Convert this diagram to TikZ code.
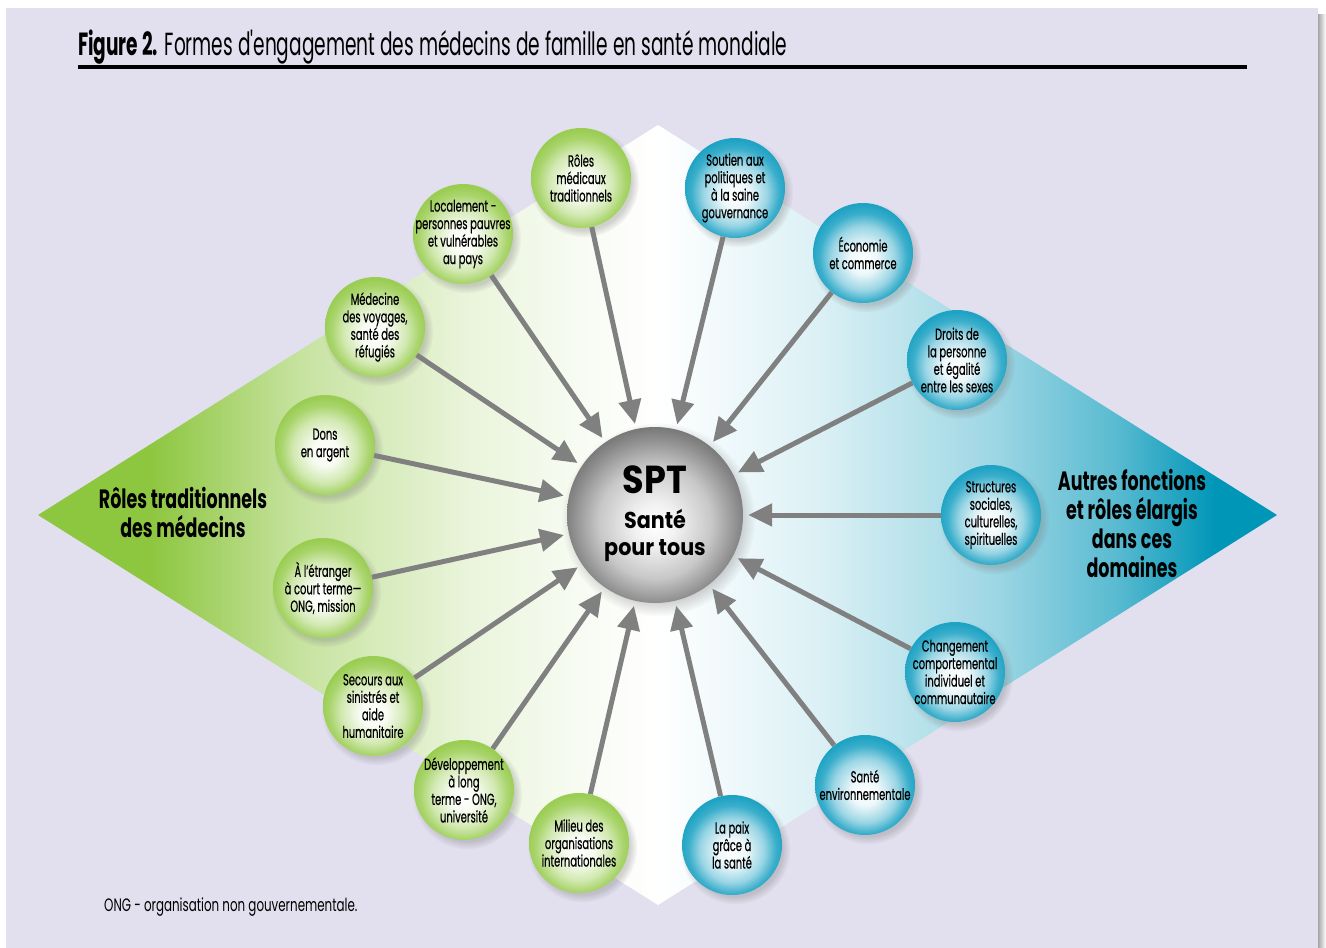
\documentclass[tikz,border=0pt]{standalone}
\usepackage{fontspec}
\setmainfont{Poppins}[FakeStretch=0.66]
\newfontfamily\sptfont{Poppins}[FakeStretch=0.9]
\newfontfamily\titrefont{Poppins}[FakeStretch=0.58]
\newfontfamily\bullefont{Poppins}[FakeStretch=0.62, FakeBold=0.5]
\usetikzlibrary{arrows.meta,shadows}

\definecolor{fond}{HTML}{E2E0EF}
\definecolor{vert}{HTML}{8DC63F}
\definecolor{bleu}{HTML}{0096B8}
\definecolor{vertbulle}{HTML}{9ACD52}
\definecolor{bleubulle}{HTML}{1FA3C4}
\definecolor{grisbulle}{HTML}{747474}
\definecolor{gris}{HTML}{808080}

% degrades du losange (les 25bp..75bp couvrent le triangle)
\pgfdeclarehorizontalshading{fondvert}{100bp}{color(0bp)=(vert); color(25bp)=(vert); color(34bp)=(vert); color(46bp)=(vert!50!white); color(60bp)=(vert!18!white); color(70bp)=(vert!5!white); color(75bp)=(white); color(100bp)=(white)}
\pgfdeclarehorizontalshading{fondbleu}{100bp}{color(0bp)=(white); color(25bp)=(white); color(38bp)=(bleu!14!white); color(52bp)=(bleu!38!white); color(62bp)=(bleu!65!white); color(70bp)=(bleu); color(100bp)=(bleu)}
% bulles
\pgfdeclareradialshading{bullevert}{\pgfpoint{0bp}{-4bp}}{color(0bp)=(white); color(7bp)=(vertbulle!8!white); color(16bp)=(vertbulle!45!white); color(22bp)=(vertbulle!85!white); color(26bp)=(vertbulle); color(50bp)=(vertbulle)}
\pgfdeclareradialshading{bullebleu}{\pgfpoint{0bp}{-4bp}}{color(0bp)=(white); color(7bp)=(bleubulle!8!white); color(16bp)=(bleubulle!45!white); color(22bp)=(bleubulle!88!white); color(26bp)=(bleubulle); color(50bp)=(bleubulle)}
\pgfdeclareradialshading{bullegris}{\pgfpoint{0bp}{-3bp}}{color(0bp)=(white); color(6bp)=(grisbulle!10!white); color(16bp)=(grisbulle!40!white); color(24bp)=(grisbulle!85!white); color(27bp)=(grisbulle); color(50bp)=(grisbulle)}

\tikzset{
  bulle/.style={circle, minimum size=100pt, inner sep=-12pt, align=center,
    font=\bullefont\fontsize{16}{17.5}\selectfont,
    circular drop shadow={shadow xshift=3pt, shadow yshift=-4pt, opacity=.35}},
  vertb/.style={bulle, shading=bullevert},
  bleub/.style={bulle, shading=bullebleu},
  fleche/.style={draw=gris, line width=5pt, -{Triangle[length=24pt,width=22pt]}, shorten >=5pt},
  titre/.style={font=\bfseries\fontsize{26.5}{29}\selectfont, align=center, inner sep=0pt},
}

\begin{document}
\begin{tikzpicture}[x=1pt,y=-1pt]
\useasboundingbox (0,0) rectangle (1326,948);
% page
\fill[white] (0,0) rectangle (1326,948);
\fill[fond] (6,8) rectangle (1318,948);
\shade[left color=black!35, right color=white] (1318,14) rectangle (1326,948);

% titre
\node[anchor=base west, inner sep=0pt, font=\titrefont\fontsize{32}{34}\selectfont] (fig) at (78,55)
  {\textbf{Figure 2.} Formes d\symbol{39}engagement des médecins de famille en santé mondiale};
\draw[line width=4pt] (78,67) -- (1247,67);

% losange
\shade[shading=fondvert] (38,515) -- (658,125) -- (658,905) -- cycle;
\shade[shading=fondbleu] (658,125) -- (1277,515) -- (658,905) -- cycle;

\node[titre] (roles) at (183,512) {Rôles traditionnels\\des médecins};
\node[titre] (autres) at (1132,523) {Autres fonctions\\et rôles élargis\\dans ces\\domaines};

% centre
\node[circle, minimum size=176pt, inner sep=0pt, shading=bullegris,
  circular drop shadow={shadow xshift=3pt, shadow yshift=-4pt, opacity=.35}] (spt) at (655,515) {};
\node[font=\sptfont\bfseries\fontsize{39}{40}\selectfont, inner sep=0pt] (sigle) at (655,480) {SPT};
\node[font=\sptfont\bfseries\fontsize{23}{27}\selectfont, align=center, inner sep=0pt] (sante) at (655,535) {Santé\\pour tous};

% roles traditionnels
\node[vertb] (medicaux) at (581,178) {Rôles\\médicaux\\traditionnels};
\node[vertb] (localement) at (463,234) {Localement -\\personnes pauvres\\et vulnérables\\au pays};
\node[vertb] (voyages) at (375,327) {Médecine\\des voyages,\\santé des\\réfugiés};
\node[vertb] (dons) at (325,445) {Dons\\en argent};
\node[vertb] (etranger) at (323,588) {À l’étranger\\à court terme—\\ONG, mission};
\node[vertb] (secours) at (373,706) {Secours aux\\sinistrés et\\aide\\humanitaire};
\node[vertb] (developpement) at (464,790) {Développement\\à long\\terme - ONG,\\université};
\node[vertb] (milieu) at (579,843) {Milieu des\\organisations\\internationales};

% autres fonctions
\node[bleub] (politiques) at (735,188) {Soutien aux\\politiques et\\à la saine\\gouvernance};
\node[bleub] (economie) at (863,253) {Économie\\et commerce};
\node[bleub] (droits) at (957,360) {Droits de\\la personne\\et égalité\\entre les sexes};
\node[bleub] (structures) at (991,515) {Structures\\sociales,\\culturelles,\\spirituelles};
\node[bleub] (comportement) at (955,672) {Changement\\comportemental\\individuel et\\communautaire};
\node[bleub] (environnement) at (865,785) {Santé\\environnementale};
\node[bleub] (paix) at (732,845) {La paix\\grâce à\\la santé};

\foreach \n in {medicaux,localement,voyages,dons,etranger,secours,developpement,milieu,
  politiques,economie,droits,structures,comportement,environnement,paix}
  \draw[fleche] (\n) -- (spt);

\node[anchor=base west, inner sep=0pt, font=\fontsize{18}{20}\selectfont] (ong) at (104,911)
  {ONG - organisation non gouvernementale.};
\end{tikzpicture}
\end{document}
